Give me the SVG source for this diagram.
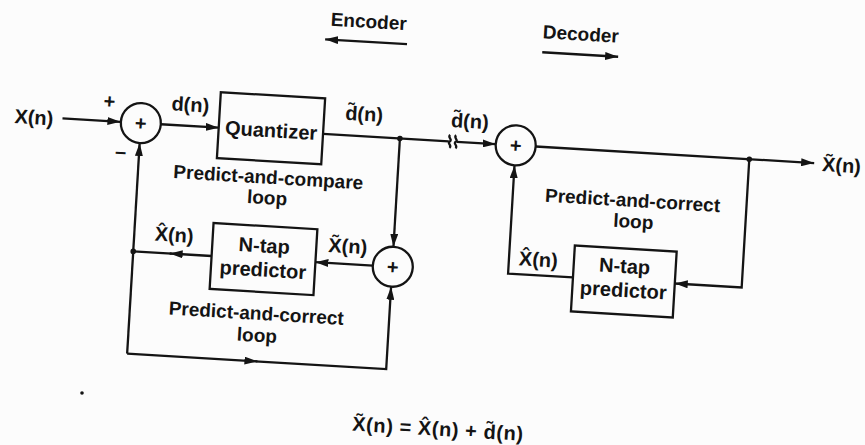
<svg xmlns="http://www.w3.org/2000/svg" width="865" height="445" viewBox="0 0 865 445">
  <defs>
    <marker id="arr" viewBox="0 0 13 8" refX="13" refY="4" markerWidth="13" markerHeight="8" markerUnits="userSpaceOnUse" orient="auto">
      <path d="M0,0 L13,4 L0,8 Z" fill="#141414"/>
    </marker>
  </defs>
  <style>
    .ln{stroke:#141414;stroke-width:2.3;fill:none}
    .bx{stroke:#141414;stroke-width:2.3;fill:none}
    .dot{fill:#141414}
    text{font-family:"Liberation Sans",Arial,sans-serif;font-weight:bold;fill:#141414;font-size:20px}
    .c{text-anchor:middle}
    .cap{font-size:19px;text-anchor:middle}
  </style>
  <rect width="865" height="445" fill="#fcfcfc"/>

  <!-- whole drawing sits slightly tilted, as printed -->
  <g transform="rotate(3.4 432 222)">

    <!-- direction headings -->
    <g id="encoder-heading">
      <text class="cap" x="357" y="32">Encoder</text>
      <path class="ln" d="M396.5,46 H314.5" marker-end="url(#arr)"/>
    </g>
    <g id="decoder-heading">
      <text class="cap" x="569.5" y="32">Decoder</text>
      <path class="ln" d="M532,46 H608" marker-end="url(#arr)"/>
    </g>

    <!-- connectors -->
    <g id="connectors">
      <path class="ln" d="M57,140.5 H115" marker-end="url(#arr)"/>
      <path class="ln" d="M155.5,140.5 H213.5" marker-end="url(#arr)"/>
      <path class="ln" d="M318,140.5 H444"/>
      <!-- channel break marks -->
      <path class="ln" stroke-width="1.8" d="M445,134 C442,136.5 448,138.5 445,140.5 C442,142.5 448,144.5 445,147"/>
      <path class="ln" stroke-width="1.8" d="M451,134 C448,136.5 454,138.5 451,140.5 C448,142.5 454,144.5 451,147"/>
      <path class="ln" d="M452,140.5 H491" marker-end="url(#arr)"/>
      <path class="ln" d="M531,140.5 H810" marker-end="url(#arr)"/>
      <!-- decoder loop -->
      <path class="ln" d="M745,140.5 V269 H678" marker-end="url(#arr)"/>
      <path class="ln" d="M576,269 H511 V160.5" marker-end="url(#arr)"/>
      <!-- encoder loops -->
      <path class="ln" d="M395,140.5 V249" marker-end="url(#arr)"/>
      <path class="ln" d="M375.5,269 H318" marker-end="url(#arr)"/>
      <path class="ln" d="M214,269 H172" marker-end="url(#arr)"/>
      <path class="ln" d="M174,269 H135.5"/>
      <path class="ln" d="M135.5,371.5 V160.5" marker-end="url(#arr)"/>
      <path class="ln" d="M135.5,371.5 H266" marker-end="url(#arr)"/>
      <path class="ln" d="M264,371.5 H395 V289" marker-end="url(#arr)"/>
      <circle class="dot" cx="395" cy="140.5" r="2.8"/>
      <circle class="dot" cx="135.5" cy="269" r="2.8"/>
      <circle class="dot" cx="745" cy="140.5" r="2.8"/>
    </g>

    <!-- signal labels -->
    <g id="labels">
      <text x="9" y="148">X(n)</text>
      <text class="c" x="103" y="127.5">+</text>
      <text class="c" x="117" y="177">–</text>
      <text x="165" y="126">d(n)</text>
      <text x="339" y="125">d&#x303;(n)</text>
      <text x="445" y="126">d&#x303;(n)</text>
      <text x="818" y="148">X&#x303;(n)</text>
      <text x="156" y="257">X&#x302;(n)</text>
      <text x="330" y="258">X&#x303;(n)</text>
      <text x="521" y="260">X&#x302;(n)</text>
    </g>

    <!-- encoder adder -->
    <g id="sum-in">
      <circle class="bx" cx="135.5" cy="140.5" r="20"/>
      <text class="c" x="135.5" y="147.5">+</text>
    </g>
    <g id="quantizer">
      <rect class="bx" x="213.5" y="105" width="104.5" height="66"/>
      <text class="c" x="266" y="147">Quantizer</text>
    </g>
    <g id="compare-loop-caption">
      <text class="cap" x="266" y="193.5">Predict-and-compare</text>
      <text class="cap" x="266" y="214">loop</text>
    </g>
    <g id="sum-enc">
      <circle class="bx" cx="395.5" cy="269" r="20"/>
      <text class="c" x="395.5" y="276">+</text>
    </g>
    <g id="predictor-enc">
      <rect class="bx" x="214" y="236" width="104" height="66"/>
      <text class="c" x="266" y="262.5">N-tap</text>
      <text class="c" x="266" y="286.5">predictor</text>
    </g>
    <g id="correct-loop-caption-enc">
      <text class="cap" x="262" y="330">Predict-and-correct</text>
      <text class="cap" x="264" y="352">loop</text>
    </g>

    <!-- decoder -->
    <g id="sum-dec">
      <circle class="bx" cx="511" cy="140.5" r="20"/>
      <text class="c" x="511" y="147.5">+</text>
    </g>
    <g id="correct-loop-caption-dec">
      <text class="cap" x="631" y="195">Predict-and-correct</text>
      <text class="cap" x="633" y="216">loop</text>
    </g>
    <g id="predictor-dec">
      <rect class="bx" x="576" y="237" width="102" height="66"/>
      <text class="c" x="627" y="261.5">N-tap</text>
      <text class="c" x="627" y="285.5">predictor</text>
    </g>

    <!-- reconstruction relation -->
    <g id="equation">
      <text class="c" x="450" y="435" textLength="171">X&#x303;(n) = X&#x302;(n) + d&#x303;(n)</text>
    </g>
  </g>
  <circle class="dot" cx="82" cy="393" r="1.8"/>
</svg>
